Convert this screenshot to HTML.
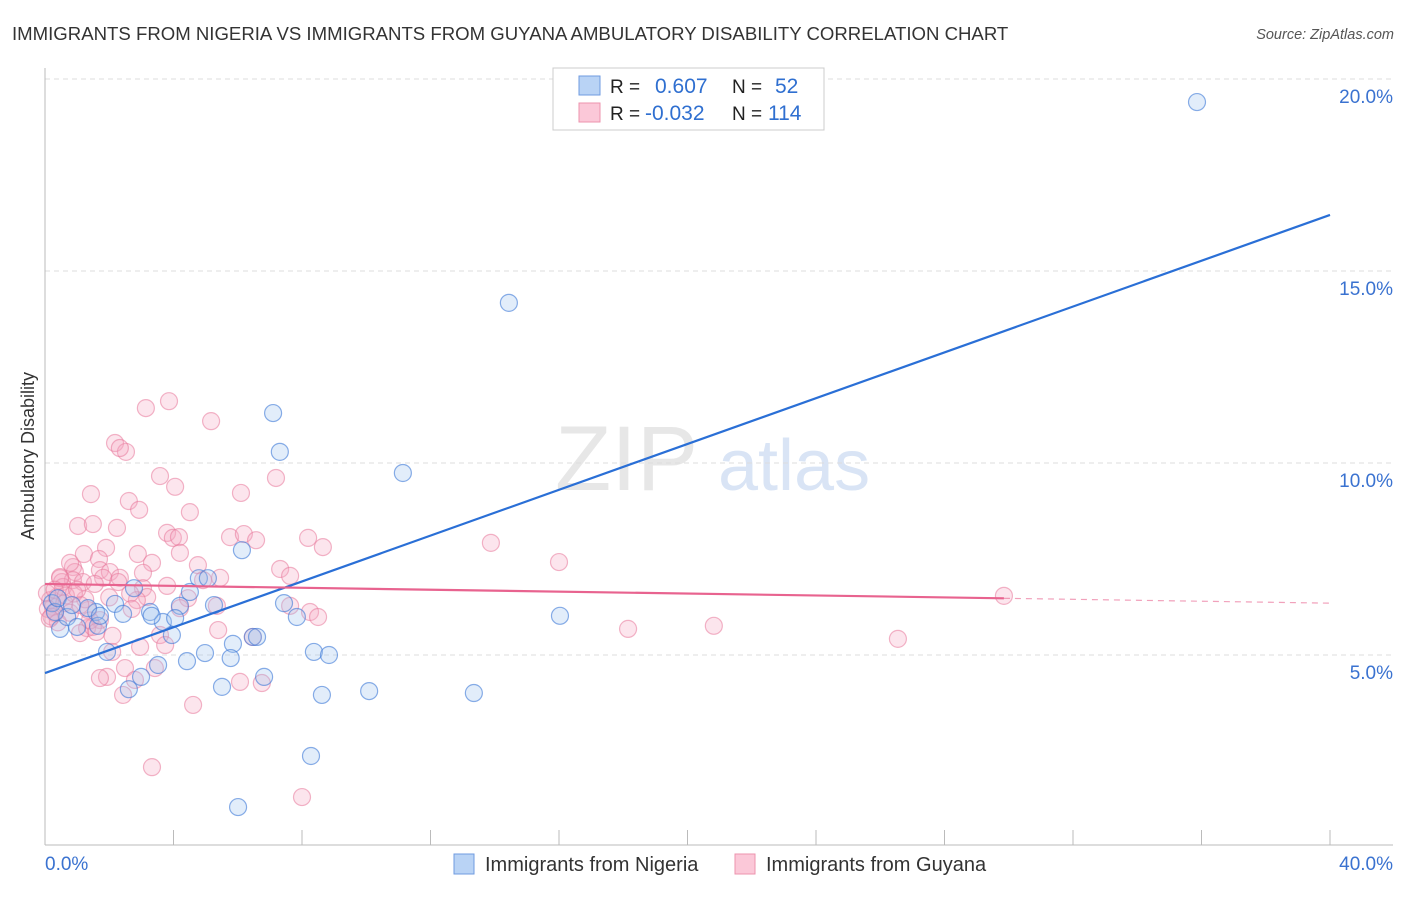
<!DOCTYPE html>
<html><head><meta charset="utf-8"><style>
body{margin:0;background:#fff;font-family:"Liberation Sans",sans-serif}
svg text{font-family:"Liberation Sans",sans-serif}
</style></head><body>
<svg id="c" width="1406" height="892">
<text x="12" y="40" font-size="18.6" fill="#333">IMMIGRANTS FROM NIGERIA VS IMMIGRANTS FROM GUYANA AMBULATORY DISABILITY CORRELATION CHART</text>
<text x="1394" y="39" font-size="14.5" fill="#555" font-style="italic" text-anchor="end">Source: ZipAtlas.com</text>
<text x="0" y="0" transform="translate(34,456) rotate(-90)" font-size="18" fill="#333" text-anchor="middle">Ambulatory Disability</text>
<g><text x="555" y="490" font-size="92" fill="#ddd" font-family="Liberation Serif" opacity="0.7">ZIP</text><text x="718" y="490" font-size="72" fill="#c9daf2" opacity="0.7">atlas</text></g>
<g id="grid"></g><g id="axes"></g><g id="pts"></g><g id="lines"></g>
<g>
<rect x="553" y="68" width="271" height="62" fill="#fff" stroke="#ccc"/>
<rect x="579" y="76" width="21" height="19" fill="#b9d3f5" stroke="#6f9be0"/>
<rect x="579" y="103" width="21" height="19" fill="#fbc8d8" stroke="#ec93ae"/>
<text x="610" y="93" font-size="19" fill="#222">R =</text><text x="655" y="93" font-size="21" fill="#2f6fd0">0.607</text>
<text x="732" y="93" font-size="19" fill="#222">N =</text><text x="775" y="93" font-size="21" fill="#2f6fd0">52</text>
<text x="610" y="120" font-size="19" fill="#222">R =</text><text x="645" y="120" font-size="21" fill="#2f6fd0">-0.032</text>
<text x="732" y="120" font-size="19" fill="#222">N =</text><text x="768" y="120" font-size="21" fill="#2f6fd0">114</text>
</g>
<g>
<rect x="454" y="854" width="20" height="20" fill="#b9d3f5" stroke="#6f9be0"/>
<text x="485" y="871" font-size="20" fill="#333">Immigrants from Nigeria</text>
<rect x="735" y="854" width="20" height="20" fill="#fbc8d8" stroke="#ec93ae"/>
<text x="766" y="871" font-size="20" fill="#333">Immigrants from Guyana</text>
</g>
</svg>
<script>
const blueX=[35.86,14.44,7.10,7.31,11.14,6.13,16.03,4.79,5.07,5.26,7.44,7.84,6.47,6.6,5.85,8.37,8.84,4.98,5.78,4.42,3.52,6.82,2.99,5.51,2.61,8.62,10.09,13.35,8.28,6.01,3.95,3.67,3.27,3.32,4.2,4.05,2.77,2.18,2.43,1.59,1.65,1.93,0.47,0.69,1.0,1.34,0.22,0.31,0.4,0.84,4.51,1.71];
const blueY=[19.4,14.17,11.3,10.29,9.74,7.73,6.02,7.0,7.0,6.30,6.35,5.99,5.47,5.47,5.29,5.08,5.0,5.05,4.92,4.84,4.74,4.43,4.43,4.17,4.11,3.96,4.06,4.01,2.37,1.04,5.52,5.86,6.12,6.02,6.28,5.96,6.74,6.33,6.07,6.12,5.76,5.08,5.68,5.99,5.73,6.22,6.35,6.12,6.48,6.3,6.64,6.02];
const pinkX=[3.86,3.14,5.17,2.18,2.52,2.33,3.58,4.05,1.43,6.10,7.19,2.61,2.93,4.51,1.03,1.49,2.24,3.80,3.98,4.17,4.20,5.76,6.19,6.57,8.19,8.65,1.90,1.21,1.68,2.89,3.33,3.05,0.87,0.93,1.71,2.02,2.33,1.81,4.76,5.45,4.92,7.32,7.63,0.47,0.53,0.87,1.18,3.80,3.05,3.18,2.86,4.45,4.20,5.35,7.63,8.25,8.50,1.34,1.71,1.31,1.09,1.49,5.39,3.58,3.74,2.96,2.09,2.49,3.42,1.93,1.71,2.80,2.43,6.07,6.75,6.47,4.61,0.25,0.16,0.37,0.31,0.06,0.56,3.33,8.0,13.88,16.0,18.15,20.82,26.55,29.85,0.09,0.2,0.6,0.78,1.25,1.4,0.9,0.4,1.55,2.0,2.28,2.65,0.47,0.78,1.1,0.3,1.6,2.1,2.7,0.15,0.65,1.0];
const pinkY=[11.61,11.43,11.09,10.52,10.29,10.39,9.66,9.38,9.19,9.22,9.61,9.01,8.78,8.72,8.36,8.41,8.31,8.18,8.05,8.07,7.66,8.07,8.15,7.99,8.05,7.81,7.79,7.63,7.50,7.63,7.40,7.14,7.29,7.16,7.21,7.16,7.01,7.01,7.34,7.01,6.95,7.24,7.06,7.03,6.90,6.95,6.90,6.80,6.74,6.51,6.43,6.48,6.22,6.28,6.28,6.12,5.99,6.17,5.91,5.70,5.57,5.73,5.65,5.52,5.26,5.21,5.08,4.66,4.66,4.43,4.40,4.35,3.96,4.30,4.27,5.47,3.70,6.25,6.43,6.51,6.09,6.61,6.77,2.08,1.30,7.92,7.42,5.68,5.76,5.42,6.54,6.2,6.0,6.35,6.1,6.45,5.9,6.6,5.85,6.85,6.5,6.9,6.6,7.0,7.4,6.3,6.7,5.6,5.5,6.2,5.95,6.55,6.7];
const yTicks=[5,10,15,20];
const yTickLabels=["5.0%","10.0%","15.0%","20.0%"];
const xTicks=[0,4,8,12,16,20,24,28,32,36,40];
const blueLine=[4.53,16.46];
const pinkLine=[6.85,6.35];
const pinkSolidEnd=29.85;
const NS="http://www.w3.org/2000/svg";
const X=v=>45+v*32.125, Y=v=>847-v*38.4;
function mk(t,a,p){const e=document.createElementNS(NS,t);for(const k in a)e.setAttribute(k,a[k]);p.appendChild(e);return e;}
const grid=document.getElementById('grid'),axes=document.getElementById('axes'),pts=document.getElementById('pts'),lines=document.getElementById('lines');
yTicks.forEach((t,i)=>{const l=mk('line',{x1:45,x2:1393,y1:Y(t),y2:Y(t),stroke:'#ddd','stroke-dasharray':'5,4'},grid);


const tx=mk('text',{x:1393,y:Y(t)+24,'text-anchor':'end','font-size':19,fill:'#3a72d0'},grid);tx.textContent=yTickLabels[i];

});
const ax=mk('line',{x1:45,x2:1393,y1:845,y2:845,stroke:'#bbb'},axes);


const ay=mk('line',{x1:45,x2:45,y1:68,y2:845,stroke:'#bbb'},axes);


xTicks.forEach(t=>{const l=mk('line',{x1:X(t),x2:X(t),y1:830,y2:845,stroke:'#bbb'},axes);

});
const xl0=mk('text',{x:45,y:870,'font-size':19,fill:'#3a72d0'},axes);xl0.textContent='0.0%';


const xl1=mk('text',{x:1393,y:870,'font-size':19,fill:'#3a72d0','text-anchor':'end'},axes);xl1.textContent='40.0%';


pinkX.forEach((x,i)=>{const c=mk('circle',{cx:X(x),cy:Y(pinkY[i]),r:8.5,fill:'rgba(246,170,195,0.3)',stroke:'rgba(232,120,155,0.55)','stroke-width':1.2},pts);

});
blueX.forEach((x,i)=>{const c=mk('circle',{cx:X(x),cy:Y(blueY[i]),r:8.5,fill:'rgba(160,196,240,0.3)',stroke:'rgba(60,120,215,0.6)','stroke-width':1.2},pts);

});
const bl=mk('line',{x1:X(0),y1:Y(blueLine[0]),x2:X(40),y2:Y(blueLine[1]),stroke:'#2a6fd6','stroke-width':2.2},lines);


const py=x=>pinkLine[0]+(pinkLine[1]-pinkLine[0])*x/40;
const pl=mk('line',{x1:X(0),y1:Y(py(0)),x2:X(pinkSolidEnd),y2:Y(py(pinkSolidEnd)),stroke:'#e8638f','stroke-width':2.2},lines);


const pd=mk('line',{x1:X(pinkSolidEnd),y1:Y(py(pinkSolidEnd)),x2:X(40),y2:Y(py(40)),stroke:'#e8638f','stroke-width':1.2,'stroke-dasharray':'6,5',opacity:0.6},lines);


</script>
</body></html>
